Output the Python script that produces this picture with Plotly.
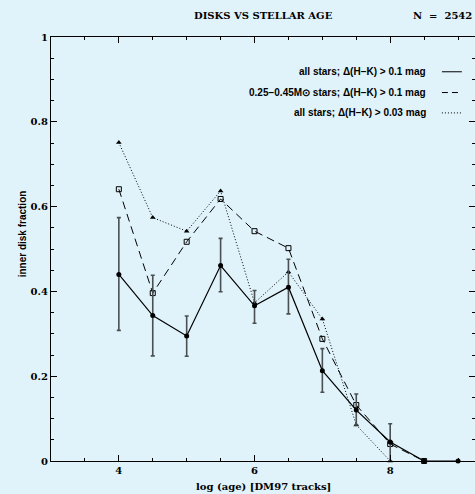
import plotly.graph_objects as go

# ---- data ----
log_age = [4.0, 4.5, 5.0, 5.5, 6.0, 6.5, 7.0, 7.5, 8.0, 8.5, 9.0]
frac_all = [0.44, 0.343, 0.295, 0.461, 0.366, 0.410, 0.213, 0.120, 0.045, 0.0, 0.0]
err_plus = [0.134, 0.095, 0.047, 0.064, 0.036, 0.066, 0.052, 0.038, 0.043, 0.0, 0.0]
err_minus = [0.132, 0.095, 0.048, 0.062, 0.041, 0.063, 0.051, 0.035, 0.045, 0.0, 0.0]

log_age_lowm = [4.0, 4.5, 5.0, 5.5, 6.0, 6.5, 7.0, 7.5, 8.0, 8.5]
frac_lowm = [0.641, 0.396, 0.517, 0.618, 0.542, 0.502, 0.288, 0.132, 0.04, 0.0]

log_age_003 = [4.0, 4.5, 5.0, 5.5, 6.0, 6.5, 7.0, 7.5, 8.0]
frac_003 = [0.751, 0.574, 0.542, 0.637, 0.373, 0.446, 0.335, 0.085, 0.0]

legend_labels = [
    "all stars; \u0394(H\u2212K) > 0.1 mag",
    "0.25\u22120.45M\u2299 stars; \u0394(H\u2212K) > 0.1 mag",
    "all stars; \u0394(H\u2212K) > 0.03 mag",
]
legend_dash = ["solid", "dash", "dot"]

BG = "#E0F3FA"
SERIF = "DejaVu Serif"
SANS = "Liberation Sans"

fig = go.Figure()

fig.add_trace(go.Scatter(
    x=log_age_003, y=frac_003, mode="lines+markers",
    line=dict(color="black", width=1, dash="1px,2px"),
    marker=dict(symbol="triangle-up", size=5, color="black"),
    cliponaxis=False, showlegend=False))

fig.add_trace(go.Scatter(
    x=log_age_lowm, y=frac_lowm, mode="lines+markers",
    line=dict(color="black", width=1, dash="8px,5px"),
    marker=dict(symbol="square-open", size=5, color="black", line=dict(width=1)),
    cliponaxis=False, showlegend=False))

fig.add_trace(go.Scatter(
    x=log_age, y=frac_all, mode="lines+markers",
    line=dict(color="black", width=1.2),
    marker=dict(symbol="circle", size=5, color="black"),
    error_y=dict(type="data", array=err_plus, arrayminus=err_minus,
                 color="#4a4f52", thickness=1.6, width=2),
    cliponaxis=False, showlegend=False))

# manual legend
ys = [0.918, 0.869, 0.821]
dash_map = {"solid": "solid", "dash": "6px,4px", "dot": "1px,2px"}
for lab, yy, dsh in zip(legend_labels, ys, legend_dash):
    fig.add_annotation(x=0.889, y=yy, xref="paper", yref="paper",
                       text="<b>" + lab + "</b>", showarrow=False,
                       xanchor="right", yanchor="middle",
                       font=dict(family=SANS, size=10, color="black"))
    fig.add_shape(type="line", xref="paper", yref="paper",
                  x0=0.922, x1=0.969, y0=yy, y1=yy,
                  line=dict(color="black", width=1, dash=dash_map[dsh]))

fig.add_annotation(x=0.5, y=1.05, xref="paper", yref="paper",
                   text="<b>DISKS VS STELLAR AGE</b>", showarrow=False,
                   xanchor="center", yanchor="middle",
                   font=dict(family=SERIF, size=10, color="black"))
fig.add_annotation(x=0.998, y=1.05, xref="paper", yref="paper",
                   text="<b>N  =  2542</b>", showarrow=False,
                   xanchor="right", yanchor="middle",
                   font=dict(family=SERIF, size=10, color="black"))
fig.add_annotation(x=0.5, y=-0.061, xref="paper", yref="paper",
                   text="<b>log (age) [DM97 tracks]</b>", showarrow=False,
                   xanchor="center", yanchor="middle",
                   font=dict(family=SERIF, size=10, color="black"))
fig.add_annotation(x=-0.068, y=0.535, xref="paper", yref="paper",
                   text="<b>inner disk fraction</b>", showarrow=False,
                   textangle=-90, xanchor="center", yanchor="middle",
                   font=dict(family=SANS, size=10, color="black"))

axis_common = dict(showline=True, linecolor="black", linewidth=1.3,
                   mirror="allticks", ticks="inside", tickcolor="black",
                   showgrid=False, zeroline=False,
                   tickfont=dict(family=SERIF, size=10, color="black"))

fig.update_xaxes(range=[3.0, 9.25], tick0=0, dtick=2, ticklen=6,
                 tickprefix="<b>", ticksuffix="</b>",
                 minor=dict(dtick=0.5, tick0=0, ticklen=3, ticks="inside",
                            tickcolor="black", showgrid=False),
                 **axis_common)
fig.update_yaxes(range=[0, 1], tick0=0, dtick=0.2, ticklen=6,
                 tickprefix="<b>", ticksuffix="</b>",
                 minor=dict(dtick=0.05, tick0=0, ticklen=3, ticks="inside",
                            tickcolor="black", showgrid=False),
                 **axis_common)

fig.update_layout(width=475, height=494,
                  margin=dict(l=51, r=0, t=37, b=33, pad=0),
                  paper_bgcolor=BG, plot_bgcolor=BG,
                  showlegend=False)

fig.write_html("out.html",
               config={"displayModeBar": False},
               post_script="document.body.style.margin='0';"
                           "document.body.style.overflow='hidden';"
                           "document.body.style.background='" + BG + "';")
